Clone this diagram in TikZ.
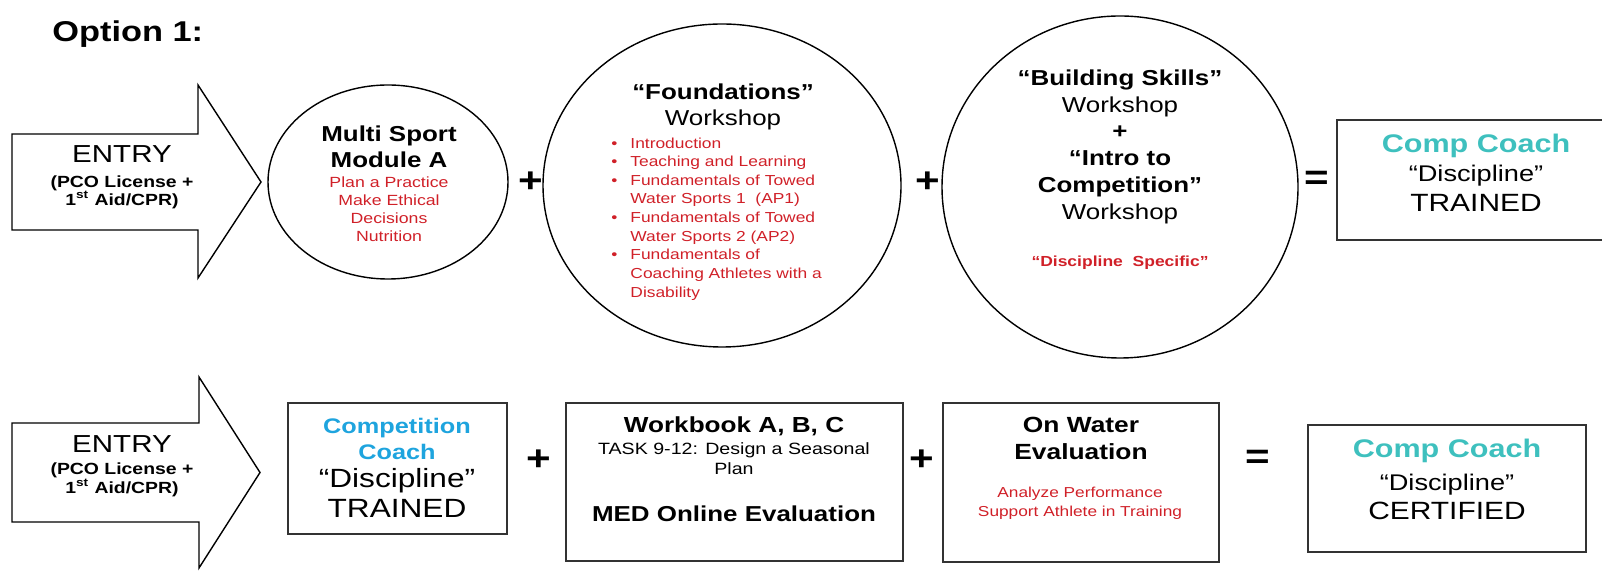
\documentclass[tikz,border=0pt]{standalone}
\usepackage{fontspec}
\setmainfont{Liberation Sans}[FakeStretch=1.2]
\usepackage{tikz}
\definecolor{ccred}{RGB}{208,32,40}
\definecolor{ccteal}{RGB}{62,192,190}
\definecolor{ccblue}{RGB}{30,164,222}
\newcommand{\fsz}[2]{\fontsize{#1}{#2}\selectfont}

\begin{document}
\begin{tikzpicture}[x=0.02cm,y=-0.02cm,
  outline/.style={draw=black,line width=0.8pt},
  boxline/.style={draw=black!80,line width=1.1pt},
  txt/.style={inner sep=0pt,align=center},
  redtxt/.style={txt,text=ccred},
  op/.style={inner sep=0pt,font=\fsz{20}{24}\bfseries}]
  \useasboundingbox (0,0) rectangle (1602,573);

  \node[txt,anchor=base west,font=\fsz{16.3}{19}\bfseries] (option) at (52,42) {Option 1:};

  % top row
  \draw[outline] (12,134)--(198,134)--(198,85)--(261,182)--(198,278)--(198,230)--(12,230)--cycle;
  \node[txt,anchor=base,font=\fsz{14}{17}] (entryA) at (122,163) {ENTRY};
  \node[txt,font=\fsz{9.2}{10.5}\bfseries] (entryAsub) at (122,192.3) {(PCO License +\\1\textsuperscript{st} Aid/CPR)};

  \draw[outline] (388,182) ellipse [x radius=120,y radius=97];
  \node[txt,font=\fsz{12.3}{14.8}\bfseries] (multiTitle) at (389,147.1) {Multi Sport\\Module A};
  \node[redtxt,font=\fsz{8.4}{10.25}] (multiList) at (389,209.6) {Plan a Practice\\Make Ethical\\Decisions\\Nutrition};
  \node[op] (plusA) at (531,182) {+};

  \draw[outline] (722,185.5) ellipse [x radius=179,y radius=161.5];
  \node[txt,font=\fsz{12.3}{14.8}] (fndTitle) at (723,107.4) {\textbf{“Foundations”}\\Workshop};
  \node[anchor=west,inner sep=0pt,text=ccred,font=\fsz{8.25}{10.6}] (fndList) at (611,218.8)
    {\begin{tabular}{@{}l@{\hspace{7.4pt}}l@{}}
      \textbullet & Introduction\\
      \textbullet & Teaching and Learning\\
      \textbullet & Fundamentals of Towed\\
                  & Water Sports 1\ \ (AP1)\\
      \textbullet & Fundamentals of Towed\\
                  & Water Sports 2 (AP2)\\
      \textbullet & Fundamentals of\\
                  & Coaching Athletes with a\\
                  & Disability
    \end{tabular}};
  \node[op] (plusB) at (928,182) {+};

  \draw[outline] (1120,187) ellipse [x radius=178,y radius=171];
  \node[txt,font=\fsz{12.3}{15.36}] (bldTitle) at (1120,146.9)
    {\textbf{“Building Skills”}\\Workshop\\\textbf{+}\\\textbf{“Intro to}\\\textbf{Competition”}\\Workshop};
  \node[redtxt,anchor=base,font=\fsz{8.3}{10}\bfseries] (bldNote) at (1120,267) {“Discipline\ \ Specific”};
  \node[op] (eqA) at (1317,180) {=};

  \draw[boxline] (1337,120) rectangle (1612,240);
  \node[txt,anchor=base,text=ccteal,font=\fsz{14.5}{17}\bfseries] (trainA) at (1476,153) {Comp Coach};
  \node[txt,anchor=base,font=\fsz{12.9}{15}] (trainB) at (1476,182) {“Discipline”};
  \node[txt,anchor=base,font=\fsz{14.2}{17}] (trainC) at (1476,212) {TRAINED};

  % bottom row
  \draw[outline] (12,423)--(199,423)--(199,377)--(260,472.5)--(199,568)--(199,522)--(12,522)--cycle;
  \node[txt,anchor=base,font=\fsz{14}{17}] (entryB) at (122,453) {ENTRY};
  \node[txt,font=\fsz{9.2}{10.5}\bfseries] (entryBsub) at (122,479.8) {(PCO License +\\1\textsuperscript{st} Aid/CPR)};

  \draw[boxline] (288,403) rectangle (507,534);
  \node[txt,text=ccblue,font=\fsz{12}{14.8}\bfseries] (compTitle) at (397,439.3) {Competition\\Coach};
  \node[txt,anchor=base,font=\fsz{15}{18}] (compDisc) at (397,488) {“Discipline”};
  \node[txt,anchor=base,font=\fsz{15}{18}] (compTrained) at (397,518) {TRAINED};
  \node[op] (plusC) at (539,460) {+};

  \draw[boxline] (566,403) rectangle (903,561);
  \node[txt,anchor=base,font=\fsz{12.4}{15}\bfseries] (wbTitle) at (734,433) {Workbook A, B, C};
  \node[txt,font=\fsz{9.3}{11.4}] (wbTask) at (734,459) {TASK 9-12: Design a Seasonal\\Plan};
  \node[txt,anchor=base,font=\fsz{12.3}{15}\bfseries] (wbMed) at (734,522) {MED Online Evaluation};
  \node[op] (plusD) at (922,460) {+};

  \draw[boxline] (943,403) rectangle (1219,562);
  \node[txt,font=\fsz{12.5}{15.4}\bfseries] (owTitle) at (1081,438.5) {On Water\\Evaluation};
  \node[redtxt,font=\fsz{8.2}{10.8}] (owList) at (1080,502.8) {Analyze Performance\\Support Athlete in Training};
  \node[op] (eqB) at (1258,459) {=};

  \draw[boxline] (1308,425) rectangle (1586,552);
  \node[txt,anchor=base,text=ccteal,font=\fsz{14.5}{17}\bfseries] (certA) at (1447,458) {Comp Coach};
  \node[txt,anchor=base,font=\fsz{12.9}{15}] (certB) at (1447,491) {“Discipline”};
  \node[txt,anchor=base,font=\fsz{14.2}{17}] (certC) at (1447,520) {CERTIFIED};
\end{tikzpicture}
\end{document}
